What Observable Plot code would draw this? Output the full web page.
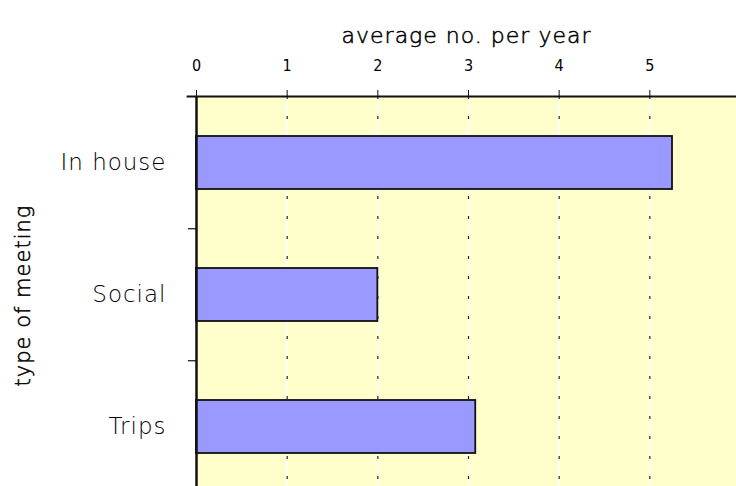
<!DOCTYPE html>
<html>
<head>
<meta charset="utf-8">
<script src="https://cdn.jsdelivr.net/npm/d3@7"></script>
<script src="https://cdn.jsdelivr.net/npm/@observablehq/plot@0.6"></script>
<style>
  html, body { margin: 0; padding: 0; background: #fff; overflow: hidden; }
  svg g[aria-label="y-axis tick label"] text { letter-spacing: 1px; }
  svg g[aria-label="text"] text { letter-spacing: 1px; }
</style>
</head>
<body>
<div id="chart"></div>
<script>
const categories = ["In house", "Social", "Trips"];
const values = [5.25, 2.0, 3.08];
const xTicks = [0, 1, 2, 3, 4, 5, 6];
const gridTicks = [1, 2, 3, 4, 5];
const xTitle = "average no. per year";
const yTitle = "type of meeting";

const data = categories.map((c, i) => ({type: c, value: values[i]}));

const labelFont = "'DejaVu Sans', sans-serif";

const chart = Plot.plot({
  width: 736,
  height: 486,
  marginLeft: 196,
  marginRight: 0,
  marginTop: 96,
  marginBottom: 0,
  style: {background: "white", overflow: "hidden"},
  x: {domain: [0, 6], range: [196, 740]},
  y: {domain: categories, range: [96, 493.5], paddingInner: 0.6, paddingOuter: 0.3},
  marks: [
    Plot.frame({fill: "#ffffcc", stroke: "none"}),
    Plot.ruleX(gridTicks, {stroke: "white", strokeWidth: 1.5}),
    Plot.ruleX(gridTicks, {stroke: "#222", strokeWidth: 1.2, strokeDasharray: "3,17"}),
    Plot.barX(data, {x: "value", y: "type", fill: "#9999ff", stroke: "#111", strokeWidth: 1.8}),
    Plot.ruleX([0], {stroke: "#111", strokeWidth: 2.5}),
    Plot.frame({anchor: "top", stroke: "#111", strokeWidth: 1.8, insetLeft: -9}),
    Plot.ruleY(["Social", "Trips"], {x1: -0.09, x2: 0, dy: -66.25, stroke: "#111", strokeWidth: 1.2}),
    Plot.axisX({
      anchor: "top", ticks: xTicks, tickSize: 7, tickPadding: 19,
      label: null, fontSize: 16, tickFormat: d3.format("d"),
      fontFamily: "'Liberation Sans Narrow', 'DejaVu Sans Condensed', sans-serif",
      stroke: "#111"
    }),
    Plot.axisY({
      anchor: "left", tickSize: 0, tickPadding: 30, label: null,
      fontSize: 23, fontFamily: labelFont, fontWeight: 200, fill: "#000",
      stroke: "#000", strokeWidth: 0.5
    }),
    Plot.text([xTitle], {frameAnchor: "top", dy: -69, fontSize: 22, fontFamily: labelFont, fontWeight: 200, fill: "#000", stroke: "#000", strokeWidth: 0.5}),
    Plot.text([yTitle], {frameAnchor: "left", dx: -173, dy: 4, rotate: -90, textAnchor: "middle", fontSize: 21, fontFamily: labelFont, fontWeight: 200, fill: "#000", stroke: "#000", strokeWidth: 0.5})
  ]
});

document.getElementById("chart").appendChild(chart);
</script>
</body>
</html>
